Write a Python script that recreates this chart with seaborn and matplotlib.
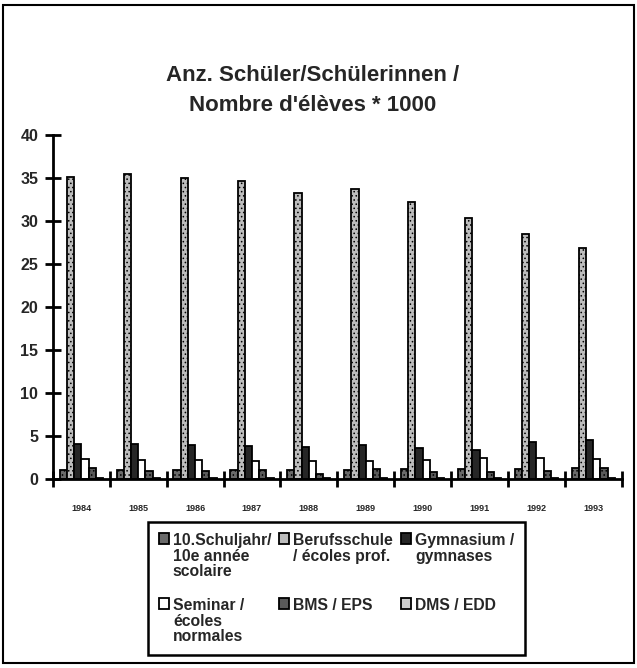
import pandas as pd
import seaborn as sns
import matplotlib.pyplot as plt
from matplotlib.patches import Rectangle

# data (thousands of pupils)
years = [1984, 1985, 1986, 1987, 1988, 1989, 1990, 1991, 1992, 1993]
types = ["10.Schuljahr/\n10e année\nscolaire",
         "Berufsschule\n/ écoles prof.",
         "Gymnasium /\ngymnases",
         "Seminar /\nécoles\nnormales",
         "BMS / EPS",
         "DMS / EDD"]
schuljahr10 = [1.0, 1.0, 1.0, 1.0, 1.05, 1.0, 1.1, 1.1, 1.15, 1.3]
berufsschule = [35.1, 35.4, 35.0, 34.7, 33.2, 33.7, 32.2, 30.4, 28.5, 26.8]
gymnasium = [4.1, 4.1, 4.0, 3.8, 3.7, 4.0, 3.6, 3.4, 4.3, 4.5]
seminar = [2.3, 2.25, 2.2, 2.1, 2.1, 2.1, 2.25, 2.45, 2.45, 2.35]
bms = [1.3, 0.9, 0.9, 1.0, 0.6, 1.1, 0.8, 0.8, 0.95, 1.3]
dms = [0.1, 0.1, 0.1, 0.1, 0.1, 0.1, 0.1, 0.1, 0.1, 0.1]

colors = ["#6a6a6a", "#bdbdbd", "#262626", "#ffffff", "#5a5a5a", "#cfcfcf"]
hatches = ["....", "....", "", "", "....", "...."]

series = [schuljahr10, berufsschule, gymnasium, seminar, bms, dms]
df = pd.DataFrame({
    "year": [str(y) for s in series for y in years],
    "type": [t for t, s in zip(types, series) for _ in s],
    "value": [v for s in series for v in s],
})

sns.set_style("white")
plt.rcParams["font.family"] = ["Liberation Sans", "DejaVu Sans"]
plt.rcParams["font.weight"] = "bold"
plt.rcParams["hatch.linewidth"] = 0.6
plt.rcParams["hatch.color"] = "#444444"

fig = plt.figure(figsize=(6.37, 6.68), dpi=100)
ax = fig.add_axes([0.083, 0.283, 0.893, 0.515])

sns.barplot(data=df, x="year", y="value", hue="type", hue_order=types,
            palette=colors, width=0.76, edgecolor="black", linewidth=1.3,
            errorbar=None, ax=ax)

for cont, h in zip(ax.containers, hatches):
    for bar in cont:
        bar.set_hatch(h)

ax.set_ylim(0, 40)
ax.set_xlim(-0.5, len(years) - 0.5)
ax.set_yticks(range(0, 41, 5))
ax.set_xlabel("")
ax.set_ylabel("")
for side in ["top", "right"]:
    ax.spines[side].set_visible(False)
for side in ["left", "bottom"]:
    ax.spines[side].set_linewidth(2)
    ax.spines[side].set_color("black")

ax.tick_params(axis="y", left=True, direction="inout", length=11, width=2,
               color="black", labelsize=11.5, pad=5)
ax.tick_params(axis="x", which="major", bottom=True, length=0,
               labelsize=6.5, pad=18)
ax.set_xticks([i - 0.5 for i in range(len(years) + 1)], minor=True)
ax.tick_params(axis="x", which="minor", bottom=True, direction="inout",
               length=11, width=2, color="black")
for lab in ax.get_xticklabels() + ax.get_yticklabels():
    lab.set_fontweight("bold")

fig.suptitle("Anz. Schüler/Schülerinnen /\nNombre d'élèves * 1000",
             x=0.49, y=0.902, fontsize=16, fontweight="bold", linespacing=1.55)

# legend in the reference's row order, rows padded to equal height
handles, labels = ax.get_legend_handles_labels()
ax.get_legend().remove()
order = [0, 3, 1, 4, 2, 5]
leg_labels = [labels[0], labels[3], labels[1] + "\n ", labels[4],
              labels[2] + "\n ", labels[5]]
leg = fig.legend([handles[i] for i in order], leg_labels, ncol=3,
                 loc="upper left", bbox_to_anchor=(0.232, 0.2185),
                 prop={"size": 11.3, "weight": "bold"}, frameon=True,
                 fancybox=False, edgecolor="black", framealpha=1,
                 handlelength=0.65, handleheight=0.65, handletextpad=0.25,
                 columnspacing=0.5, labelspacing=1.2, borderpad=0.7,
                 borderaxespad=0)
leg.get_frame().set_linewidth(1.8)
for t in leg.get_texts():
    t.set_linespacing(1.05)
for col in leg._legend_handle_box.get_children():
    for row in col.get_children():
        row.align = "top"

fig.patches.append(Rectangle((0.005, 0.007), 0.99, 0.985, transform=fig.transFigure,
                             fill=False, edgecolor="black", linewidth=1.5))

fig.savefig("out.png", dpi=100)
